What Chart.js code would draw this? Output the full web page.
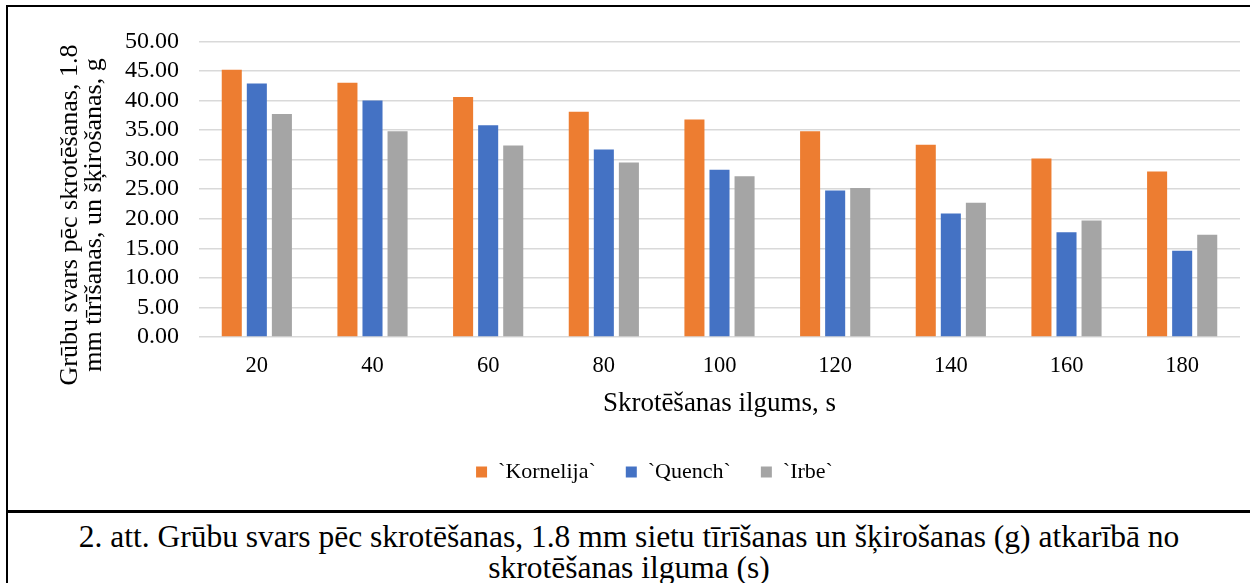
<!DOCTYPE html>
<html lang="lv">
<head>
    <meta charset="UTF-8">
    <title>Grūbu svars</title>
    <script src="https://cdn.jsdelivr.net/npm/chart.js"></script>
    <style>
        body { margin: 0; background: #fff; font-family: "Liberation Serif", "DejaVu Serif", serif; }
        .frame { position: absolute; left: 6px; top: 5px; width: 1242px; height: 578px;
                 border-left: 2px solid #000; border-top: 2px solid #000; }
        .chartBox { position: relative; width: 1242px; height: 503px; }
        .caption { border-top: 3px solid #000; text-align: center; font-family: "Liberation Serif", "DejaVu Serif", serif;
                   font-size: 31.5px; line-height: 31px; padding-top: 8px; color: #000; white-space: nowrap; }
    </style>
</head>
<body>
    <div class="frame">
        <div class="chartBox"><canvas id="myChart"></canvas></div>
        <div class="caption">2. att. Grūbu svars pēc skrotēšanas, 1.8 mm sietu tīrīšanas un šķirošanas (g) atkarībā no<br>skrotēšanas ilguma (s)</div>
    </div>
    <script>
        const categories = ['20', '40', '60', '80', '100', '120', '140', '160', '180'];
        const kornelija = [45.2, 43.0, 40.6, 38.1, 36.8, 34.8, 32.5, 30.2, 28.0];
        const quench = [42.9, 40.0, 35.8, 31.7, 28.3, 24.8, 20.9, 17.7, 14.6];
        const irbe = [37.7, 34.8, 32.4, 29.5, 27.2, 25.2, 22.7, 19.7, 17.3];
        const seriesNames = ['`Kornelija`', '`Quench`', '`Irbe`'];
        const yTitle = ['Grūbu svars pēc skrotēšanas, 1.8', 'mm tīrīšanas, un šķirošanas, g'];
        const xTitle = 'Skrotēšanas ilgums, s';

        const serif = '"Liberation Serif", "DejaVu Serif", serif';

        // y axis title drawn by hand so it can sit lower than the plot centre
        const yTitlePlugin = {
            id: 'yTitle',
            afterDraw(chart) {
                const ctx = chart.ctx;
                ctx.save();
                ctx.font = '26px ' + serif;
                ctx.fillStyle = '#000';
                ctx.textAlign = 'center';
                ctx.textBaseline = 'middle';
                ctx.translate(62, 208);
                ctx.rotate(-Math.PI / 2);
                ctx.fillText(yTitle[0], 0, 0);
                ctx.fillText(yTitle[1], 0, 24.5);
                ctx.restore();
            }
        };

        const ctx = document.getElementById('myChart').getContext('2d');
        new Chart(ctx, {
            type: 'bar',
            data: {
                labels: categories,
                datasets: [
                    { label: seriesNames[0], data: kornelija, backgroundColor: '#ED7D31' },
                    { label: seriesNames[1], data: quench, backgroundColor: '#4472C4' },
                    { label: seriesNames[2], data: irbe, backgroundColor: '#A5A5A5' }
                ]
            },
            options: {
                responsive: true,
                maintainAspectRatio: false,
                animation: false,
                categoryPercentage: 0.65,
                barPercentage: 0.8,
                layout: { padding: { left: 61, right: 10, top: 26, bottom: 17 } },
                plugins: {
                    legend: {
                        position: 'bottom',
                        labels: {
                            boxWidth: 11,
                            boxHeight: 11,
                            padding: 30,
                            color: '#000',
                            font: { family: serif, size: 22 }
                        }
                    },
                    tooltip: { enabled: false }
                },
                scales: {
                    x: {
                        grid: { display: false, drawTicks: false },
                        border: { display: false },
                        ticks: { color: '#000', padding: 16, font: { family: serif, size: 22.5 } },
                        title: {
                            display: true, text: xTitle, color: '#000',
                            padding: { top: 0, bottom: 11 },
                            font: { family: serif, size: 27 }
                        },
                        afterFit(axis) { axis.height = 94; }
                    },
                    y: {
                        min: 0,
                        max: 50,
                        grid: { color: '#d9d9d9', lineWidth: 1.5, drawTicks: false },
                        border: { display: false },
                        ticks: {
                            stepSize: 5,
                            autoSkip: false,
                            color: '#000',
                            padding: 20,
                            font: { family: serif, size: 24 },
                            callback: v => v.toFixed(2)
                        },
                        afterFit(axis) { axis.width = 130; }
                    }
                }
            },
            plugins: [yTitlePlugin]
        });
    </script>
</body>
</html>
